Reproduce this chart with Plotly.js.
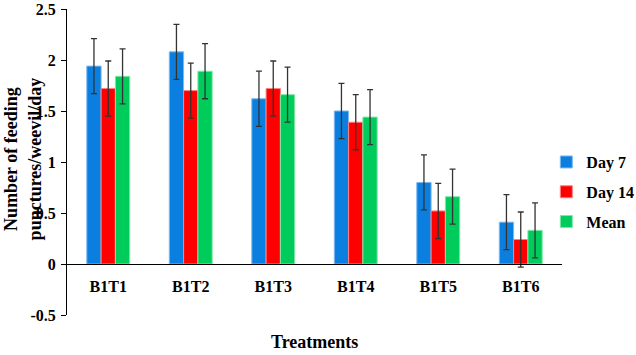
<!DOCTYPE html>
<html>
<head>
<meta charset="utf-8">
<script src="https://cdn.plot.ly/plotly-3.0.1.min.js"></script>
<style>html,body{margin:0;padding:0;background:#fff;}#chart{width:636px;height:355px;}</style>
</head>
<body>
<div id="chart"></div>
<script>
var categories = ["B1T1", "B1T2", "B1T3", "B1T4", "B1T5", "B1T6"];
var day7 = [1.94, 2.08, 1.62, 1.50, 0.80, 0.41];
var day14 = [1.72, 1.70, 1.72, 1.39, 0.52, 0.24];
var meanVals = [1.84, 1.89, 1.66, 1.44, 0.66, 0.33];
var errDay7 = [0.27, 0.27, 0.27, 0.27, 0.27, 0.27];
var errDay14 = [0.27, 0.27, 0.27, 0.27, 0.27, 0.27];
var errMean = [0.27, 0.27, 0.27, 0.27, 0.27, 0.27];
var yTicks = [-0.5, 0, 0.5, 1, 1.5, 2, 2.5];
var yTickText = ["-0.5", "0", "0.5", "1", "1.5", "2", "2.5"];
var seriesNames = ["Day 7", "Day 14", "Mean"];

var font = "Liberation Serif, Times New Roman, serif";
function bold(s) { return "<b>" + s + "</b>"; }
function mk(name, y, err, color, edge, group) {
  return {
    type: "bar", name: bold(name), x: categories, y: y, legendgroup: group,
    marker: {color: color, line: {color: edge, width: 1}},
    error_y: {type: "data", array: err, visible: true, color: "#333333", thickness: 1.3, width: 3}
  };
}
var data = [
  mk(seriesNames[0], day7, errDay7, "#0A7FE0", "#7DB8F0", "a"),
  mk(seriesNames[1], day14, errDay14, "#FF0000", "#FF8080", "b"),
  mk(seriesNames[2], meanVals, errMean, "#00CC5C", "#80E6A8", "c")
];
var layout = {
  width: 636, height: 355,
  margin: {l: 67, r: 74, t: 9, b: 40, autoexpand: false},
  paper_bgcolor: "#fff", plot_bgcolor: "#fff",
  barmode: "group", bargap: 0.48, bargroupgap: 0,
  font: {family: font, color: "#000"},
  showlegend: true,
  legend: {xref: "container", yref: "container", x: 0.859, y: 0.459,
    xanchor: "left", yanchor: "middle",
    font: {family: font, size: 16, color: "#000"},
    tracegroupgap: 6, itemwidth: 30},
  xaxis: {
    type: "category", anchor: "free", position: 1/6,
    tickvals: categories, ticktext: categories.map(bold),
    showline: true, linecolor: "#000", linewidth: 1,
    ticks: "", showgrid: false, zeroline: false, ticklabelstandoff: 8,
    tickfont: {family: font, size: 16, color: "#000"}
  },
  yaxis: {
    range: [-0.5, 2.5], tickvals: yTicks, ticktext: yTickText.map(bold),
    showline: true, linecolor: "#000", linewidth: 1,
    ticks: "outside", ticklen: 5, tickcolor: "#000", ticklabelstandoff: 2,
    showgrid: false, zeroline: false,
    tickfont: {family: font, size: 16, color: "#000"}
  },
  annotations: [
    {text: "<b>Treatments</b>", xref: "paper", yref: "paper", x: 0.5, y: -0.088,
     xanchor: "center", yanchor: "middle", showarrow: false,
     font: {family: font, size: 18, color: "#000"}},
    {text: "<b>Number of feeding<br>punctures/weevil/day</b>", xref: "paper", yref: "paper",
     x: -0.088, y: 0.51, xanchor: "center", yanchor: "middle", textangle: -90, showarrow: false,
     font: {family: font, size: 18, color: "#000"}}
  ]
};
Plotly.newPlot("chart", data, layout, {displayModeBar: false, staticPlot: true});
</script>
</body>
</html>
